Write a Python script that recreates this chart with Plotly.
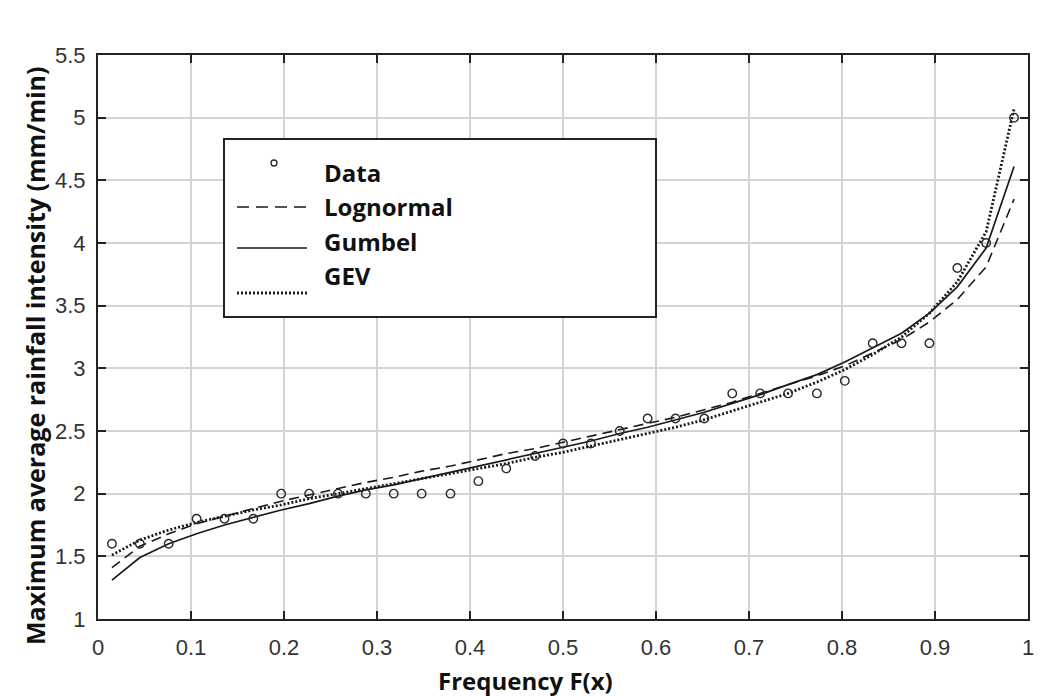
import plotly.graph_objects as go

# ---- data ----
freq = [0.015, 0.045, 0.076, 0.106, 0.136, 0.167, 0.197, 0.227, 0.258, 0.288, 0.318,
        0.348, 0.379, 0.409, 0.439, 0.470, 0.500, 0.530, 0.561, 0.591, 0.621, 0.652,
        0.682, 0.712, 0.742, 0.773, 0.803, 0.833, 0.864, 0.894, 0.924, 0.955, 0.985]

data_vals = [1.6, 1.6, 1.6, 1.8, 1.8, 1.8, 2.0, 2.0, 2.0, 2.0, 2.0,
             2.0, 2.0, 2.1, 2.2, 2.3, 2.4, 2.4, 2.5, 2.6, 2.6, 2.6,
             2.8, 2.8, 2.8, 2.8, 2.9, 3.2, 3.2, 3.2, 3.8, 4.0, 5.0]

lognormal_vals = [1.41, 1.58, 1.68, 1.76, 1.82, 1.88, 1.94, 1.99, 2.04, 2.09, 2.13,
                  2.18, 2.22, 2.27, 2.32, 2.36, 2.41, 2.46, 2.51, 2.56, 2.61, 2.67,
                  2.73, 2.80, 2.87, 2.94, 3.02, 3.12, 3.23, 3.37, 3.55, 3.81, 4.35]

gumbel_vals = [1.31, 1.49, 1.60, 1.68, 1.75, 1.81, 1.87, 1.92, 1.98, 2.03, 2.07,
               2.12, 2.17, 2.22, 2.27, 2.32, 2.37, 2.42, 2.48, 2.53, 2.59, 2.65,
               2.72, 2.79, 2.87, 2.95, 3.05, 3.16, 3.28, 3.44, 3.65, 3.96, 4.61]

gev_vals = [1.51, 1.63, 1.71, 1.77, 1.82, 1.87, 1.91, 1.96, 2.00, 2.04, 2.08,
            2.12, 2.16, 2.20, 2.24, 2.29, 2.33, 2.38, 2.43, 2.48, 2.53, 2.59,
            2.66, 2.73, 2.80, 2.89, 2.99, 3.11, 3.25, 3.44, 3.69, 4.09, 5.07]

series_names = ["Data", "Lognormal", "Gumbel", "GEV"]
x_ticks = [0, 0.1, 0.2, 0.3, 0.4, 0.5, 0.6, 0.7, 0.8, 0.9, 1]
x_tick_labels = ["0", "0.1", "0.2", "0.3", "0.4", "0.5", "0.6", "0.7", "0.8", "0.9", "1"]
y_ticks = [1, 1.5, 2, 2.5, 3, 3.5, 4, 4.5, 5, 5.5]
y_tick_labels = ["1", "1.5", "2", "2.5", "3", "3.5", "4", "4.5", "5", "5.5"]
x_title = "Frequency F(x)"
y_title = "Maximum average rainfall intensity (mm/min)"

INK = "#1a1a1a"
LINE_STYLES = {
    "Lognormal": dict(color=INK, width=1.6, dash="10px,6px"),
    "Gumbel": dict(color=INK, width=1.7),
    "GEV": dict(color=INK, width=2.8, dash="2px,2px"),
}

fig = go.Figure()
fig.add_trace(go.Scatter(x=freq, y=lognormal_vals, mode="lines", name="Lognormal",
                         line=LINE_STYLES["Lognormal"], showlegend=False))
fig.add_trace(go.Scatter(x=freq, y=gumbel_vals, mode="lines", name="Gumbel",
                         line=LINE_STYLES["Gumbel"], showlegend=False))
fig.add_trace(go.Scatter(x=freq, y=gev_vals, mode="lines", name="GEV",
                         line=LINE_STYLES["GEV"], showlegend=False))
fig.add_trace(go.Scatter(x=freq, y=data_vals, mode="markers", name="Data",
                         marker=dict(symbol="circle-open", size=8.5, color="#2a2a2a",
                                     line=dict(width=1.4, color="#2a2a2a")),
                         showlegend=False))

# ---- plot geometry (pixels in the 1056x696 page) ----
L, R, T, B = 98, 28, 55, 77
PW, PH = 1056 - L - R, 696 - T - B


def px(xp):
    return (xp - L) / PW


def py(yp):
    return (696 - B - yp) / PH


# ---- hand-drawn legend box matching the reference ----
shapes = [dict(type="rect", xref="paper", yref="paper",
               x0=px(224), x1=px(656), y0=py(317), y1=py(139),
               fillcolor="white", line=dict(color="#222", width=2), layer="above")]
sample_rows = {"Lognormal": 207, "Gumbel": 248, "GEV": 293}
for name, yy in sample_rows.items():
    st = LINE_STYLES[name]
    shapes.append(dict(type="line", xref="paper", yref="paper",
                       x0=px(237), x1=px(307), y0=py(yy), y1=py(yy),
                       line=dict(color=st["color"], width=st["width"],
                                 dash="12px,7px" if name == "Lognormal" else st.get("dash", "solid")),
                       layer="above"))
shapes.append(dict(type="circle", xref="paper", yref="paper",
                   x0=px(271), x1=px(277), y0=py(166), y1=py(160),
                   line=dict(color="#2a2a2a", width=1.3), layer="above"))

text_rows = {"Data": 172, "Lognormal": 206.5, "Gumbel": 241, "GEV": 275.5}
legend_font = dict(family="Open Sans", size=24, color="#111", weight="bold")
annotations = []
for name in series_names:
    annotations.append(dict(text=name, xref="paper", yref="paper", x=px(322),
                            y=py(text_rows[name]), xanchor="left", yanchor="middle",
                            showarrow=False, font=legend_font))
annotations.append(dict(text=x_title, xref="paper", yref="paper", x=px(525), y=py(680),
                        xanchor="center", yanchor="middle", showarrow=False,
                        font=dict(family="Open Sans", size=24, color="#111", weight="bold")))
annotations.append(dict(text=y_title, xref="paper", yref="paper", x=px(35), y=py(356),
                        xanchor="center", yanchor="middle", textangle=-90, showarrow=False,
                        font=dict(family="Open Sans", size=25, color="#111", weight="bold")))

axis_common = dict(showgrid=True, gridcolor="#d4d4d4", gridwidth=1.5,
                   showline=True, linecolor="#222", linewidth=2, mirror="ticks",
                   ticks="inside", ticklen=8, tickwidth=1.5, tickcolor="#222",
                   zeroline=False,
                   tickfont=dict(family="Liberation Sans", size=22, color="#333"))

fig.update_layout(
    width=1056, height=696,
    margin=dict(l=L, r=R, t=T, b=B),
    paper_bgcolor="white", plot_bgcolor="white",
    xaxis=dict(range=[0, 1], tickvals=x_ticks, ticktext=x_tick_labels,
               ticklabelstandoff=8, **axis_common),
    yaxis=dict(range=[1, 5.5], tickvals=y_ticks, ticktext=y_tick_labels,
               ticklabelstandoff=6, **axis_common),
    shapes=shapes, annotations=annotations, showlegend=False,
)

fig.write_html("out.html")
